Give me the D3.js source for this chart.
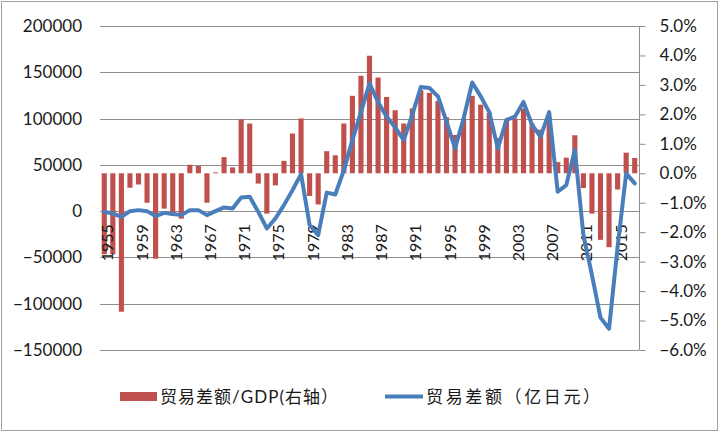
<!DOCTYPE html>
<html>
<head>
<meta charset="utf-8">
<script src="https://cdn.jsdelivr.net/npm/d3@7"></script>
<style>
  html, body { margin: 0; padding: 0; background: #fff; }
  svg { display: block; }
</style>
</head>
<body>
<svg id="chart" width="719" height="432"></svg>
<script>
// ---- DATA ----
const years = d3.range(1955, 2018).map(String);

// 贸易差额/GDP (%), right axis (bars)
const ratioGDP = [
  -2.75, -2.75, -4.70, -0.49, -0.38, -1.00, -2.90, -1.20, -1.43, -1.54,
   0.29,  0.25, -1.00,  0.03,  0.55,  0.20,  1.83,  1.69, -0.35, -1.37,
  -0.41,  0.42,  1.35,  1.86, -0.77, -1.06,  0.75,  0.61,  1.69,  2.63,
   3.31,  3.99,  3.25,  2.59,  2.14,  1.69,  2.20,  2.82,  2.73,  2.45,
   1.90,  1.30,  1.86,  2.63,  2.33,  2.05,  1.20,  1.80,  1.86,  2.20,
   1.69,  1.48,  1.90,  0.38,  0.53,  1.29, -0.50, -1.37, -2.26, -2.51,
  -0.55,  0.70,  0.52
];

// 贸易差额 (亿日元), left axis (line)
const tradeBalance = [
   -800,  -2500,  -6200,      0,   1100,      0,  -5400,  -1800,  -3200,  -4300,
   1100,   1100,  -4300,      0,   4000,   2900,  14800,  15500,   -800, -18700,
  -7900,   6500,  22700,  40000, -15000, -26000,  20000,  18000,  44000,  76800,
 107000, 138000, 118000, 102000,  90500,  76800, 104000, 134000, 133000, 124000,
  96600,  67800, 100000, 139000, 124000, 107000,  67800,  98500, 102000, 118000,
  93000,  80400, 107000,  20900,  28100,  66000, -25600, -69000,-115000,-127000,
 -38600,  40800,  30000
];

const leftTicks  = [-150000, -100000, -50000, 0, 50000, 100000, 150000, 200000];
const rightTicks = [-6, -5, -4, -3, -2, -1, 0, 1, 2, 3, 4, 5];
const xTickYears = d3.range(1955, 2018, 4).map(String);

const barName  = "贸易差额/GDP(右轴）";
const lineName = "贸易差额（亿日元）";

// ---- LAYOUT ----
const svg = d3.select("#chart");
const plot = { left: 100, right: 639, top: 26, bottom: 350 };
const font = "Lato, 'Noto Sans CJK SC', sans-serif";
const gridColor = "#8f8f8f";
const barColor = "#C0504D";
const lineColor = "#4A7EBB";

// chart border
svg.append("rect")
  .attr("x", 1.5).attr("y", 1.5).attr("width", 716).attr("height", 429)
  .attr("fill", "#fff").attr("stroke", "#a0a0a0").attr("stroke-width", 1);

const x = d3.scaleBand().domain(years)
  .range([plot.left, plot.right]).paddingInner(0.4).paddingOuter(0.2);
const yL = d3.scaleLinear().domain([-150000, 200000]).range([plot.bottom, plot.top]);
const yR = d3.scaleLinear().domain([-6, 5]).range([plot.bottom, plot.top]);

// gridlines (left axis)
svg.append("g")
  .selectAll("line").data(leftTicks).join("line")
  .attr("x1", plot.left).attr("x2", plot.right)
  .attr("y1", d => Math.round(yL(d)) + 0.5).attr("y2", d => Math.round(yL(d)) + 0.5)
  .attr("stroke", gridColor).attr("stroke-width", 1);

// left axis labels
const leftAxis = d3.axisLeft(yL).tickValues(leftTicks).tickSize(0).tickPadding(18)
  .tickFormat(d3.format("d"));
const gL = svg.append("g").attr("transform", `translate(${plot.left},0)`).call(leftAxis);
gL.select(".domain").remove();
gL.selectAll("text").attr("font-family", font).attr("font-size", 17).attr("fill", "#1a1a1a");

// right axis
const rightAxis = d3.axisRight(yR).tickValues(rightTicks).tickSize(6).tickPadding(14)
  .tickFormat(d => d3.format(".1f")(d) + "%");
const gR = svg.append("g").attr("transform", `translate(${plot.right + 0.5},0)`).call(rightAxis);
gR.select(".domain").attr("stroke", gridColor).attr("d", `M0,${plot.top}V${plot.bottom}`);
gR.selectAll(".tick line").attr("stroke", gridColor);
gR.selectAll("text").attr("font-family", font).attr("font-size", 17).attr("fill", "#1a1a1a");

// bars (right axis)
svg.append("g")
  .selectAll("rect").data(years).join("rect")
  .attr("x", d => x(d))
  .attr("width", x.bandwidth())
  .attr("y", (d, i) => Math.min(yR(0), yR(ratioGDP[i])))
  .attr("height", (d, i) => Math.abs(yR(ratioGDP[i]) - yR(0)))
  .attr("fill", barColor);

// x axis labels (at left-axis zero)
const xAxis = d3.axisBottom(x).tickValues(xTickYears).tickSize(0).tickPadding(0);
const gX = svg.append("g").attr("transform", `translate(0,${yL(0)})`).call(xAxis);
gX.select(".domain").remove();
gX.selectAll("text")
  .attr("font-family", font).attr("font-size", 16).attr("fill", "#1a1a1a")
  .attr("transform", "rotate(-90)")
  .attr("text-anchor", "end")
  .attr("dy", "0.35em").attr("x", -13).attr("y", 3.5);

// line (left axis)
const line = d3.line()
  .x((d, i) => x(years[i]) + x.bandwidth() / 2)
  .y(d => yL(d));
svg.append("path").datum(tradeBalance)
  .attr("d", line)
  .attr("fill", "none").attr("stroke", lineColor)
  .attr("stroke-width", 4).attr("stroke-linejoin", "round").attr("stroke-linecap", "round");

// legend
const lg = svg.append("g").attr("font-family", font).attr("font-size", 17).attr("fill", "#1a1a1a");
lg.append("rect").attr("x", 120).attr("y", 392).attr("width", 37).attr("height", 9).attr("fill", barColor);
lg.append("text").attr("x", 160).attr("y", 397).attr("dy", "0.35em")
  .attr("textLength", 178).attr("lengthAdjust", "spacing").text(barName);
lg.append("line").attr("x1", 385).attr("x2", 423).attr("y1", 396.5).attr("y2", 396.5)
  .attr("stroke", lineColor).attr("stroke-width", 4);
lg.append("text").attr("x", 426).attr("y", 397).attr("dy", "0.35em")
  .attr("textLength", 174).attr("lengthAdjust", "spacing").text(lineName);
</script>
</body>
</html>
